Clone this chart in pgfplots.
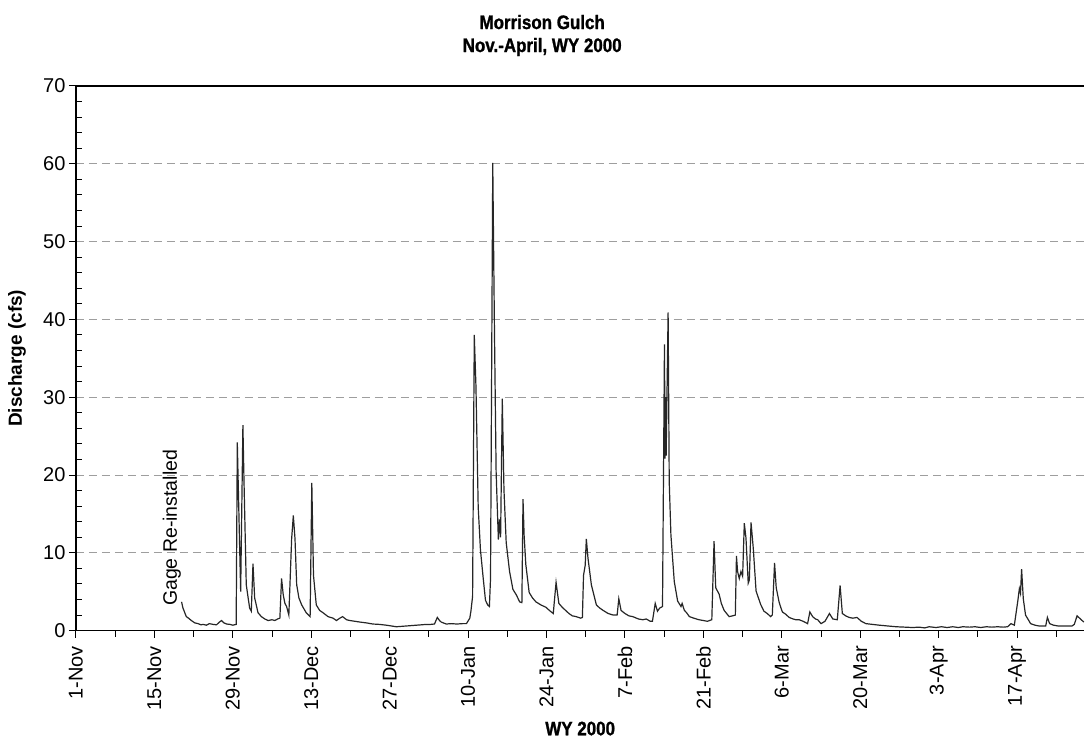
\documentclass[border=0pt]{standalone}
\usepackage{fontspec}
\setmainfont{Liberation Sans}
\newfontfamily\narrowbold[FakeStretch=0.87, FakeBold=1.2]{Liberation Sans Bold}
\usepackage{pgfplots}
\pgfplotsset{compat=1.18}
\pgfplotstableread{
d v
18.85 3.7
19.1 2.9
19.7 1.8
20.1 1.6
20.6 1.3
21.2 1.0
21.8 0.9
22.3 0.75
22.7 0.8
23.3 0.7
23.8 0.9
24.5 0.8
25.1 0.75
25.6 1.1
26.0 1.3
26.4 1.0
26.9 0.85
27.5 0.8
28.0 0.7
28.6 0.8
28.8 24.2
29.4 5.0
29.8 26.4
30.0 19.1
30.4 5.9
31.0 2.9
31.3 2.5
31.6 8.6
31.9 4.2
32.5 2.3
33.1 1.8
33.7 1.5
34.3 1.3
35.0 1.4
35.5 1.3
36.0 1.5
36.4 1.6
36.7 6.7
37.0 4.6
37.3 3.5
37.6 3.1
38.0 2.0
38.5 11.8
38.8 14.8
39.1 11.8
39.4 5.9
39.8 4.2
40.3 3.3
41.1 2.3
41.8 1.8
42.1 19.0
42.4 7.1
42.9 3.3
43.5 2.6
44.1 2.3
45.0 1.8
45.9 1.6
46.5 1.3
47.1 1.6
47.6 1.8
48.3 1.4
48.9 1.3
49.8 1.2
50.7 1.1
51.8 1.0
53.0 0.85
54.2 0.8
55.4 0.7
56.3 0.6
57.2 0.5
58.1 0.55
59.0 0.6
59.9 0.65
60.8 0.7
61.7 0.75
62.5 0.8
63.3 0.8
64.0 0.85
64.5 1.7
64.9 1.3
65.2 1.1
66.1 0.85
67.0 0.9
68.0 0.85
69.0 0.9
69.7 0.9
70.3 1.6
70.5 2.5
70.8 4.4
71.1 38.0
71.4 31.4
71.8 15.9
72.2 10.4
72.7 6.7
73.1 3.9
73.5 3.3
73.8 3.1
74.0 6.7
74.4 60.1
74.7 38.7
75.0 20.4
75.4 11.7
75.6 14.3
75.8 12.0
76.1 29.8
76.4 18.1
76.8 11.3
77.4 7.6
78.0 5.3
78.6 4.6
79.2 3.7
79.6 3.6
79.8 16.9
80.0 12.2
80.3 8.5
80.9 4.9
81.5 4.2
82.1 3.7
83.0 3.3
83.9 3.0
84.5 2.6
85.2 2.2
85.7 6.2
86.2 3.5
86.8 3.0
87.4 2.6
88.0 2.2
88.6 1.9
89.3 1.8
90.1 1.6
90.4 1.7
90.6 7.1
90.9 8.4
91.1 11.8
91.4 9.3
92.0 5.9
92.9 3.3
93.5 2.9
94.1 2.6
95.0 2.2
95.9 2.0
96.6 2.0
96.9 4.1
97.3 2.6
98.0 2.2
98.7 1.9
99.4 1.8
100.4 1.5
101.2 1.4
101.8 1.5
102.5 1.2
102.9 1.2
103.4 3.5
103.8 2.5
104.2 2.9
104.7 3.1
105.05 36.8
105.15 22.1
105.25 30.0
105.35 22.5
105.7 40.9
105.9 19.1
106.2 12.3
106.8 6.3
107.4 3.8
108.0 3.1
108.2 3.5
108.6 2.6
109.0 2.3
109.5 1.8
110.3 1.6
111.2 1.4
112.0 1.3
112.7 1.2
113.5 1.4
113.9 11.5
114.2 5.5
114.8 4.7
115.2 3.5
115.7 2.6
116.6 1.8
117.2 1.9
117.7 2.0
117.9 9.6
118.1 7.6
118.4 6.7
118.7 7.6
119.0 7.0
119.3 13.8
119.6 11.9
120.0 6.1
120.2 6.5
120.5 13.9
120.9 10.6
121.4 5.1
122.2 3.4
122.8 2.5
123.4 2.2
124.0 1.8
124.3 2.0
124.7 8.7
125.0 5.5
125.5 3.7
125.8 3.0
126.1 2.4
126.7 2.1
127.3 1.7
128.0 1.5
128.5 1.4
129.1 1.4
129.8 1.2
130.6 0.9
131.0 2.4
131.5 1.8
132.0 1.5
132.4 1.4
133.0 0.9
133.7 1.2
134.5 2.2
135.1 1.5
135.9 1.4
136.4 5.8
136.8 2.2
137.4 1.9
138.0 1.7
138.7 1.6
139.4 1.7
140.2 1.2
141.0 0.9
142.2 0.8
143.4 0.7
144.9 0.6
146.4 0.5
147.9 0.45
149.4 0.4
150.5 0.45
151.5 0.35
152.3 0.5
153.5 0.4
154.5 0.5
155.5 0.4
156.5 0.5
157.5 0.4
158.3 0.5
159.5 0.45
160.5 0.5
161.5 0.4
162.5 0.5
163.5 0.45
164.5 0.5
165.5 0.45
166.3 0.5
166.9 0.9
167.5 0.7
168.1 3.7
168.4 5.4
168.6 4.8
168.8 7.9
169.1 4.1
169.5 2.0
170.0 1.4
170.4 0.9
171.2 0.7
171.9 0.6
172.6 0.6
173.1 0.6
173.4 1.7
173.8 0.9
174.5 0.7
175.3 0.6
176.1 0.6
177.0 0.6
177.8 0.6
178.2 0.8
178.7 1.9
179.3 1.5
179.9 1.1
}\flowdata
\begin{document}
\begin{tikzpicture}
\begin{axis}[
  width=1009pt, height=545pt, scale only axis,
  xmin=0, xmax=180, ymin=0, ymax=70,
  clip=false,
  axis line style={draw=none},
  xtick={0,14,...,168},
  xticklabels={1-Nov,15-Nov,29-Nov,13-Dec,27-Dec,10-Jan,24-Jan,7-Feb,21-Feb,6-Mar,20-Mar,3-Apr,17-Apr},
  minor xtick={7,21,...,175},
  ytick={0,10,...,70},
  minor ytick={2,4,6,8,12,14,16,18,22,24,26,28,32,34,36,38,42,44,46,48,52,54,56,58,62,64,66,68},
  xtick pos=left, ytick pos=left,
  tick align=outside,
  major tick length=7pt, minor tick length=6pt,
  minor y tick style={xshift=6pt},
  tick style={black, line width=1pt},
  ymajorgrids,
  major grid style={dash pattern=on 8pt off 5pt, color=black!38, line width=1pt},
  xticklabel style={yshift=-5pt, rotate=90, anchor=east, font=\fontsize{20}{22}\selectfont},
  yticklabel style={font=\fontsize{20}{22}\selectfont},
  /pgf/number format/assume math mode=true,
]
\addplot[color=black!85, line width=1.2pt] table[x=d, y=v] {\flowdata};
\draw[black, line width=1.3pt] (rel axis cs:0,0) -- (rel axis cs:0,1) -- (rel axis cs:1,1);
\draw[black, line width=1.3pt] (rel axis cs:0,0) -- (rel axis cs:1,0);
\node[rotate=90, font=\fontsize{19.5}{22}\selectfont] at (axis cs:17.1,13.2) {Gage Re-installed};
\end{axis}
\node[font=\narrowbold\fontsize{19.5}{23}\selectfont, align=center] at (466.5pt, 595.5pt) {Morrison Gulch\\Nov.-April, WY 2000};
\node[rotate=90, font=\bfseries\fontsize{19}{22}\selectfont] at (-59pt, 272.5pt) {Discharge (cfs)};
\node[font=\narrowbold\fontsize{19.5}{22}\selectfont] at (504.5pt, -98pt) {WY 2000};
\path[use as bounding box] (-76pt,-109pt) rectangle (1009pt,631pt);
\end{tikzpicture}
\end{document}
